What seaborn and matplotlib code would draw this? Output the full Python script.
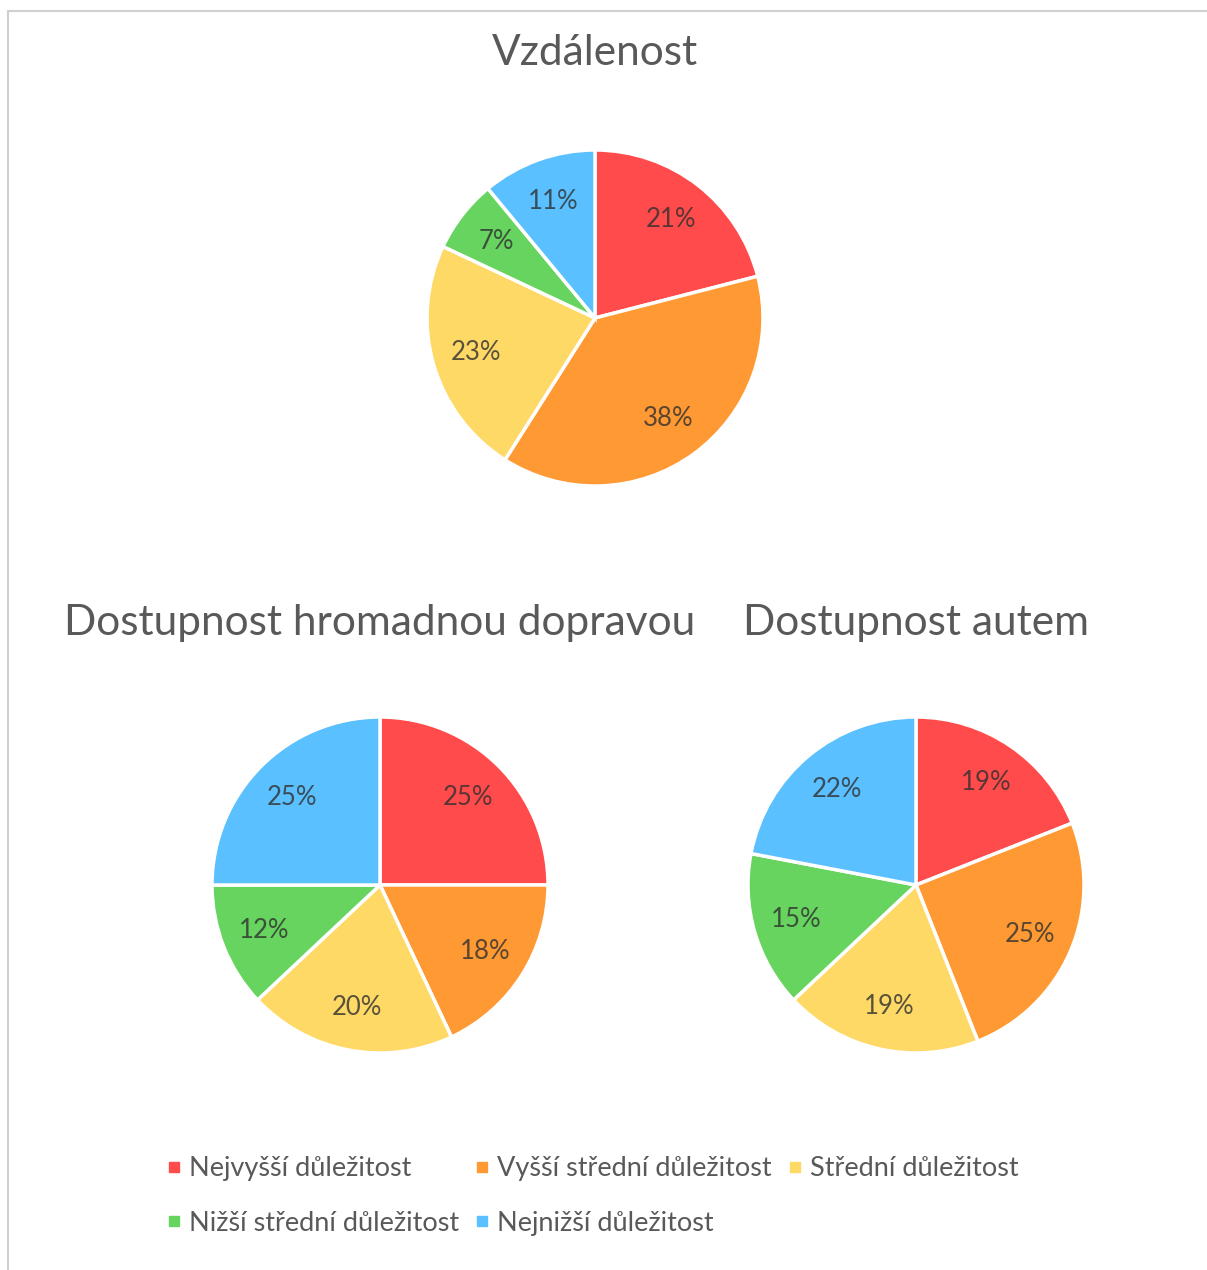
import matplotlib
matplotlib.use("Agg")
import matplotlib.pyplot as plt
from matplotlib.lines import Line2D
import seaborn as sns

sns.set_theme(style="white")
plt.rcParams['font.family'] = ['Lato', 'DejaVu Sans']

categories = ["Nejvyšší důležitost", "Vyšší střední důležitost", "Střední důležitost",
              "Nižší střední důležitost", "Nejnižší důležitost"]
vzdalenost = [21, 38, 23, 7, 11]
hromadna = [25, 18, 20, 12, 25]
autem = [19, 25, 19, 15, 22]
titles = ["Vzdálenost", "Dostupnost hromadnou dopravou", "Dostupnost autem"]
colors = sns.color_palette(["#FF4B4B", "#FF9933", "#FFD966", "#66D45E", "#5BC0FF"])

W, H = 1207, 1270
fig = plt.figure(figsize=(W / 100, H / 100), dpi=100)
fig.patch.set_facecolor("white")

R = 168
def axes_at(cx, cy):
    return fig.add_axes([(cx - R) / W, 1 - (cy + R) / H, 2 * R / W, 2 * R / H])

def draw(ax, vals):
    wedges, texts, autotexts = ax.pie(
        vals, colors=colors, startangle=90, counterclock=False, radius=1,
        autopct=lambda p: f"{p:.0f}%", pctdistance=0.74,
        wedgeprops=dict(edgecolor="white", linewidth=2.5),
        textprops=dict(fontsize=18.5, color="#303030", alpha=0.8))
    ax.set_xlim(-1.0, 1.0)
    ax.set_ylim(-1.0, 1.0)
    ax.set_aspect("equal")
    ax.axis("off")
    return wedges

draw(axes_at(595, 318), vzdalenost)
draw(axes_at(380, 885), hromadna)
draw(axes_at(916, 885), autem)

tcol = "#595959"
fig.text(595 / W, 1 - 53 / H, titles[0], ha="center", va="center", fontsize=30.5, color=tcol)
fig.text(380 / W, 1 - 623 / H, titles[1], ha="center", va="center", fontsize=30.5, color=tcol)
fig.text(916 / W, 1 - 623 / H, titles[2], ha="center", va="center", fontsize=30.5, color=tcol)

handles = [Line2D([], [], marker="s", linestyle="none", markersize=7,
                  markerfacecolor=c, markeredgecolor=c) for c in colors]
order = [0, 3, 1, 4, 2]
fig.legend([handles[i] for i in order], [categories[i] for i in order],
           ncol=3, loc="upper left", bbox_to_anchor=(167 / W, 1 - 1156 / H),
           frameon=False, fontsize=19.5, labelcolor="#595959",
           handlelength=0.5, handletextpad=0.3, columnspacing=0.62,
           labelspacing=1.1, borderpad=0, borderaxespad=0)

# border lines (left and top)
fig.add_artist(Line2D([8 / W, 8 / W], [0, 1 - 11 / H], transform=fig.transFigure,
                      color="#D0D0D0", linewidth=1.5))
fig.add_artist(Line2D([8 / W, 1], [1 - 11 / H, 1 - 11 / H], transform=fig.transFigure,
                      color="#D0D0D0", linewidth=1.5))

fig.savefig("out.png", dpi=100, facecolor="white")
